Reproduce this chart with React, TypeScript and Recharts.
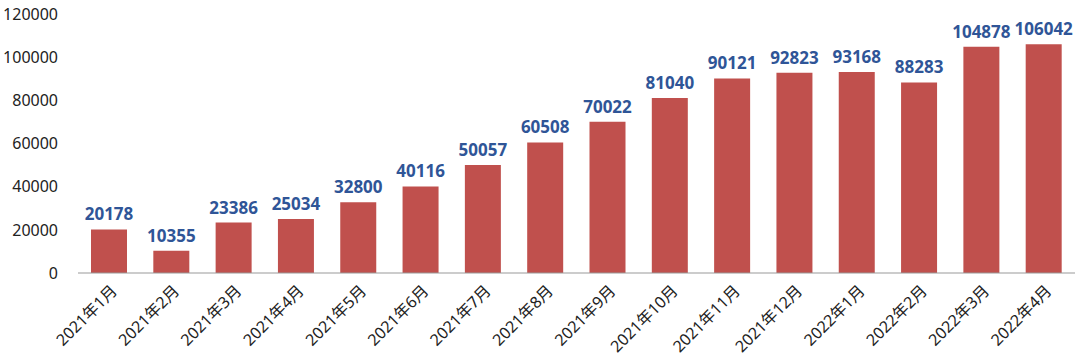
import React from "react";
import { BarChart, Bar, XAxis, YAxis, LabelList } from "recharts";

const categories = ["2021年1月","2021年2月","2021年3月","2021年4月","2021年5月","2021年6月","2021年7月","2021年8月","2021年9月","2021年10月","2021年11月","2021年12月","2022年1月","2022年2月","2022年3月","2022年4月"];
const values = [20178,10355,23386,25034,32800,40116,50057,60508,70022,81040,90121,92823,93168,88283,104878,106042];
const yTicks = [0,20000,40000,60000,80000,100000,120000];

const data = categories.map((c, i) => ({ name: c, value: values[i] }));

const font = "'Noto Sans', 'Noto Sans CJK SC', sans-serif";

const XTick = (props: any) => {
  const { x, y, payload } = props;
  return (
    <g transform={`translate(${x + 6},${y + 8})`}>
      <text textAnchor="end" transform="rotate(-45)" fontSize={16} fill="#222" fontFamily={font} dy={4}>
        {payload.value}
      </text>
    </g>
  );
};

export default function App() {
  return (
    <div style={{ position: "absolute", left: 0, top: 0, background: "#fff" }}>
      <BarChart width={1080} height={361} data={data} margin={{ top: 14, right: 5, left: 0, bottom: 0 }}>
        <XAxis dataKey="name" interval={0} tickLine={false} axisLine={{ stroke: "#999" }} height={88} tick={<XTick />} />
        <YAxis domain={[0, 120000]} ticks={yTicks} width={78} tickLine={false} axisLine={false}
          tick={{ fontSize: 16, fill: "#222", fontFamily: font }} tickMargin={14} />
        <Bar dataKey="value" fill="#C0504D" barSize={36} isAnimationActive={false}>
          <LabelList dataKey="value" position="top" offset={9} style={{ fontSize: 17, fontWeight: 700, fill: "#2F5597", fontFamily: font }} />
        </Bar>
      </BarChart>
    </div>
  );
}
